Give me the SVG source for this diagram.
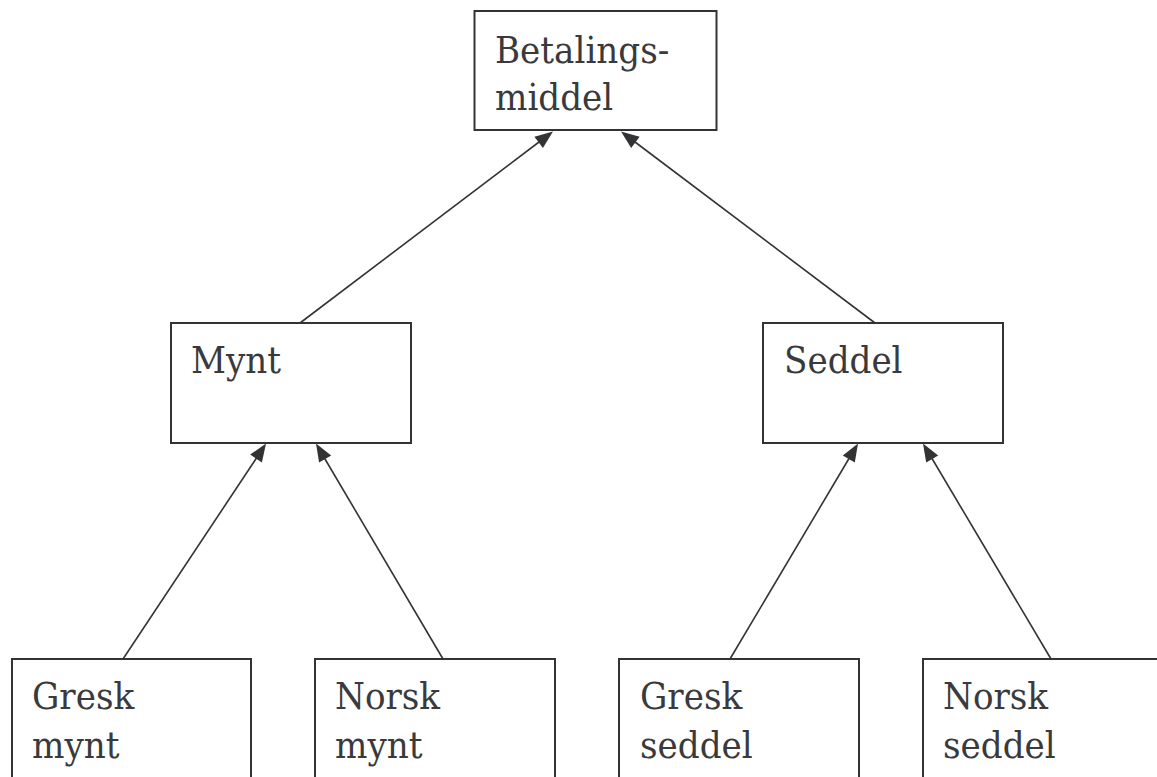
<svg xmlns="http://www.w3.org/2000/svg" width="1157" height="777" viewBox="0 0 1157 777">
  <style>
    .box { fill: #ffffff; stroke: #333335; stroke-width: 2; }
    .label { font-family: 'DejaVu Serif Condensed', 'DejaVu Serif', serif; font-stretch: condensed; font-size: 38px; fill: #3a3a3c; }
    .edge { stroke: #333335; stroke-width: 1.6; fill: none; }
    .head { fill: #333335; }
  </style>
  <rect width="1157" height="777" fill="#ffffff"/>

  <!-- connectors: each child points up to its parent; heads drawn at the parent's edge -->
  <g id="connectors">
    <line class="edge" x1="300" y1="323" x2="539" y2="142"/>
    <polygon class="head" points="553,131.5 542.9,147.9 534.4,136.8"/>
    <line class="edge" x1="875" y1="323" x2="635" y2="142"/>
    <polygon class="head" points="621,131.5 639.6,136.8 631.2,147.9"/>
    <line class="edge" x1="123" y1="659" x2="256.5" y2="458"/>
    <polygon class="head" points="266,443.5 261.9,462.4 250.2,454.6"/>
    <line class="edge" x1="443" y1="659" x2="324.7" y2="458.5"/>
    <polygon class="head" points="316,443.5 331.2,455.5 319.1,462.6"/>
    <line class="edge" x1="730" y1="659" x2="849" y2="458.5"/>
    <polygon class="head" points="858,443.5 854.8,462.6 842.8,455.4"/>
    <line class="edge" x1="1051" y1="659" x2="932" y2="458.5"/>
    <polygon class="head" points="923,443.5 938.2,455.4 926.2,462.6"/>
  </g>

  <g id="node-betalingsmiddel">
    <rect class="box" x="474.5" y="11" width="242" height="119"/>
    <text class="label" x="495" y="62.5">Betalings-</text>
    <text class="label" x="495" y="110">middel</text>
  </g>

  <g id="node-mynt">
    <rect class="box" x="171" y="323" width="240" height="120"/>
    <text class="label" x="191" y="373">Mynt</text>
  </g>

  <g id="node-seddel">
    <rect class="box" x="763" y="323" width="240" height="120"/>
    <text class="label" x="784" y="373">Seddel</text>
  </g>

  <g id="node-gresk-mynt">
    <rect class="box" x="12" y="659" width="239" height="130"/>
    <text class="label" x="32" y="708.5">Gresk</text>
    <text class="label" x="32" y="758">mynt</text>
  </g>

  <g id="node-norsk-mynt">
    <rect class="box" x="315" y="659" width="240" height="130"/>
    <text class="label" x="335" y="708.5">Norsk</text>
    <text class="label" x="335" y="758">mynt</text>
  </g>

  <g id="node-gresk-seddel">
    <rect class="box" x="619" y="659" width="240" height="130"/>
    <text class="label" x="640" y="708.5">Gresk</text>
    <text class="label" x="640" y="758">seddel</text>
  </g>

  <g id="node-norsk-seddel">
    <rect class="box" x="923" y="659" width="240" height="130"/>
    <text class="label" x="943" y="708.5">Norsk</text>
    <text class="label" x="943" y="758">seddel</text>
  </g>
</svg>
